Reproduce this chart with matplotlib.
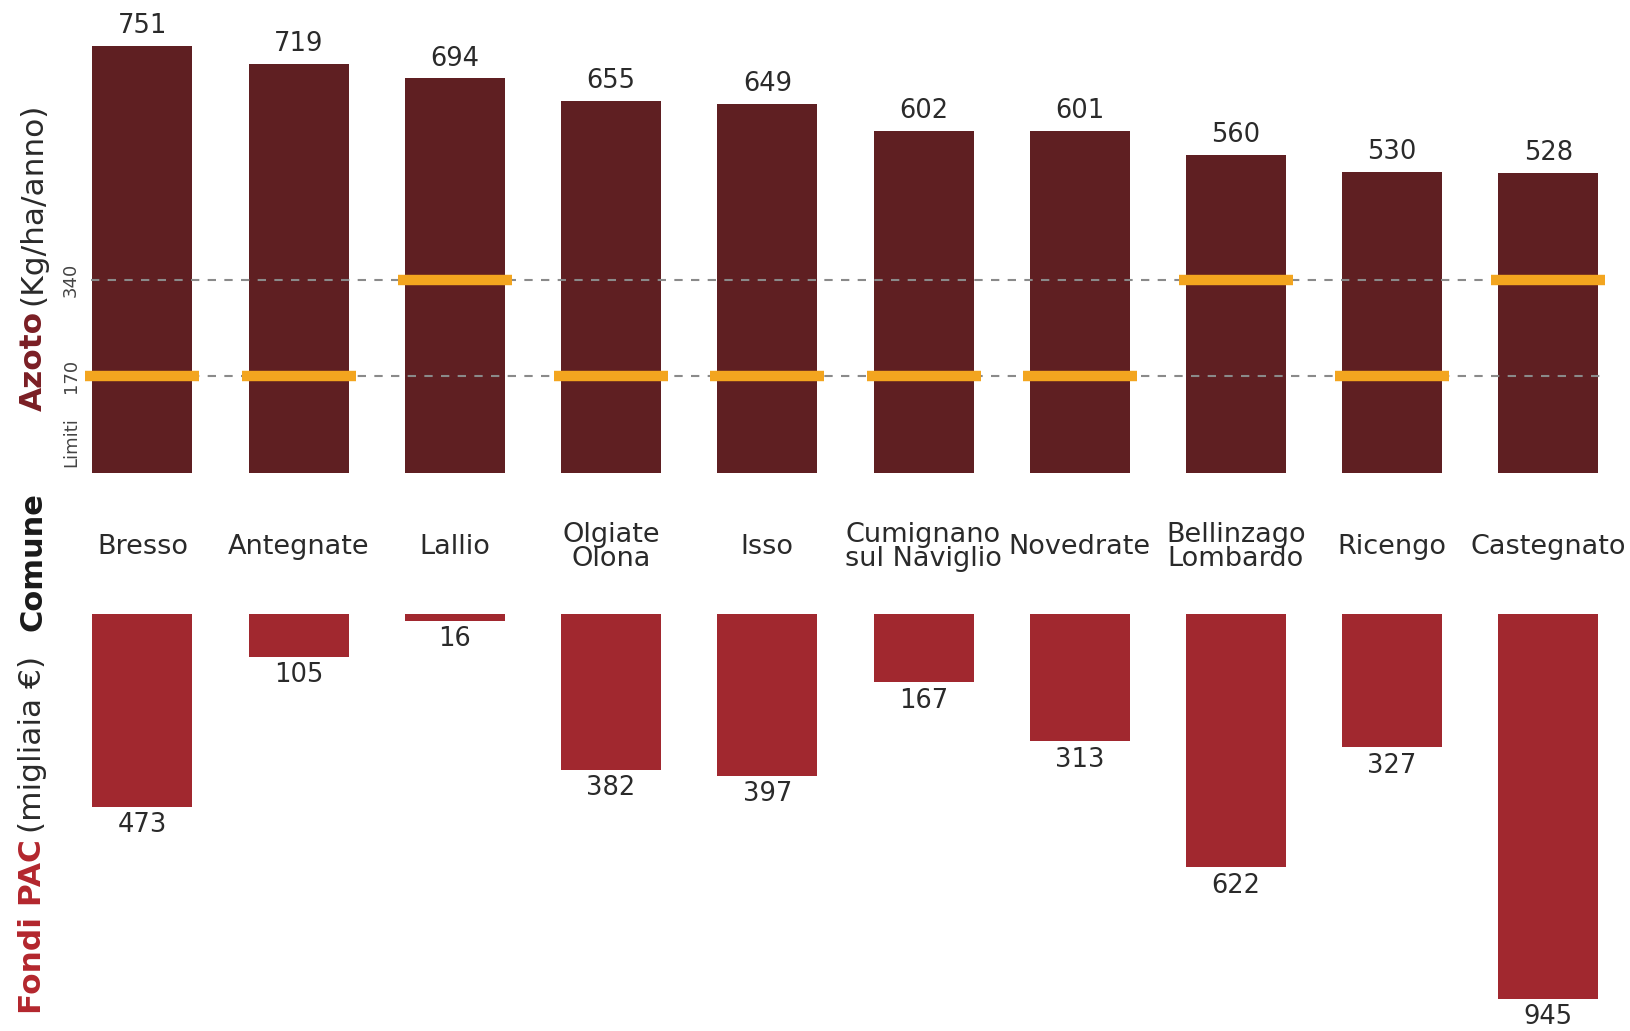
import matplotlib.pyplot as plt
import matplotlib.transforms as mtransforms

# Data
comuni = ['Bresso', 'Antegnate', 'Lallio', 'Olgiate\nOlona', 'Isso',
          'Cumignano\nsul Naviglio', 'Novedrate', 'Bellinzago\nLombardo',
          'Ricengo', 'Castegnato']
azoto = [751, 719, 694, 655, 649, 602, 601, 560, 530, 528]
limiti = [170, 170, 340, 170, 170, 170, 170, 340, 170, 340]
fondi_pac = [473, 105, 16, 382, 397, 167, 313, 622, 327, 945]
limit_levels = [170, 340]

top_color = '#5f1f22'
bottom_color = '#a1282f'
orange = '#f3a51f'
text_color = '#2a2a2a'

plt.rcParams['font.family'] = ['DejaVu Sans']

fig = plt.figure(figsize=(16.31, 10.31), dpi=100)
W, H = 1631, 1031

xs = list(range(len(comuni)))
xlim = (-0.912, 9.529)

# top axes: azoto
ax_top = fig.add_axes([0, 1 - 473 / H, 1, 473 / H])
ax_top.bar(xs, azoto, width=0.64, color=top_color)
for lvl in limit_levels:
    ax_top.hlines(lvl, -0.33, 9.34, colors='#8a8a8a', linestyles=(0, (4, 4)), linewidth=1.5, zorder=3)
ax_top.hlines(limiti, [x - 0.365 for x in xs], [x + 0.365 for x in xs],
              colors=orange, linewidth=7.5, zorder=4)
for x, v in zip(xs, azoto):
    ax_top.annotate(str(v), (x, v), xytext=(0, 5), textcoords='offset points',
                    ha='center', va='bottom', fontsize=18.5, color=text_color)
ax_top.set_xlim(*xlim)
ax_top.set_ylim(0, 832)
ax_top.axis('off')

# bottom axes: fondi PAC
ax_bot = fig.add_axes([0, 0, 1, 417 / H])
ax_bot.bar(xs, fondi_pac, width=0.64, color=bottom_color)
for x, v in zip(xs, fondi_pac):
    ax_bot.annotate(str(v), (x, v), xytext=(0, -4), textcoords='offset points',
                    ha='center', va='top', fontsize=18.5, color=text_color)
ax_bot.set_xlim(*xlim)
ax_bot.set_ylim(1024, 0)
ax_bot.axis('off')

# category labels between the two panels
trans = mtransforms.blended_transform_factory(ax_bot.transData, fig.transFigure)
for x, name in zip(xs, comuni):
    fig.text(x, 1 - 547 / H, name, transform=trans, ha='center', va='center',
             fontsize=19.5, color=text_color, linespacing=0.9)

# limit labels
ltrans = mtransforms.blended_transform_factory(fig.transFigure, ax_top.transData)
for lvl in limit_levels:
    fig.text(71 / W, lvl, str(lvl), transform=ltrans, rotation=90,
             ha='center', va='center', fontsize=13, color='#444444')
fig.text(71 / W, 1 - 442 / H, 'Limiti', rotation=90, ha='center', va='center',
         fontsize=13, color='#444444')


def rotated_pair(x, y_bottom, bold_txt, bold_color, rest_txt):
    t1 = fig.text(x, y_bottom, bold_txt, rotation=90, ha='center', va='bottom',
                  fontsize=22.5, fontweight='bold', color=bold_color)
    fig.canvas.draw()
    bb = t1.get_window_extent().transformed(fig.transFigure.inverted())
    fig.text(x, bb.y1 + 6 / H, rest_txt, rotation=90, ha='center', va='bottom',
             fontsize=22.5, color=text_color)


rotated_pair(33 / W, 1 - 411 / H, 'Azoto', '#7a1e24', '(Kg/ha/anno)')
rotated_pair(33 / W, 1 - 1014 / H, 'Fondi PAC', '#b3262d', '(migliaia €)')
fig.text(33 / W, 1 - 562 / H, 'Comune', rotation=90, ha='center', va='center',
         fontsize=22, fontweight='bold', color='#1a1a1a')

fig.savefig('out.png', dpi=100, facecolor='white')
